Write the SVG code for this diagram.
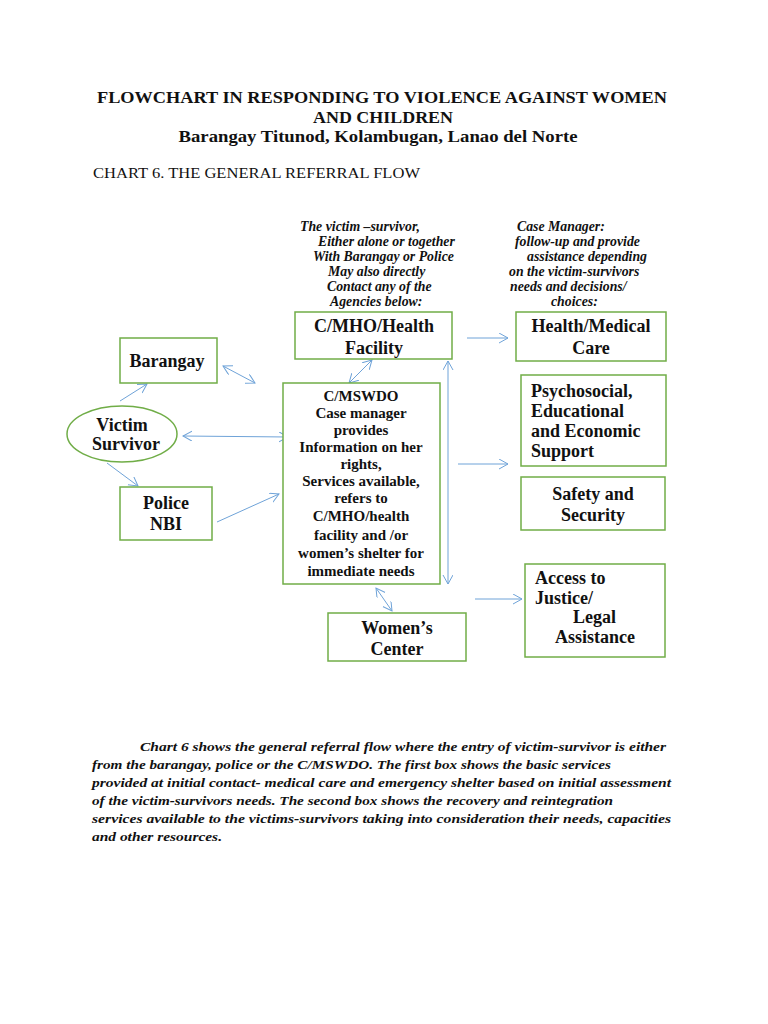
<svg xmlns="http://www.w3.org/2000/svg" width="768" height="1024" viewBox="0 0 768 1024">
<style>
text{font-family:"Liberation Serif","Times New Roman",serif;fill:#111;font-weight:bold}
.t{font-size:17.5px}
.r{font-weight:normal;font-size:14.5px}
.n{font-style:italic;font-size:13.8px}
.p{font-style:italic;font-size:13.5px}
.b{fill:#fff;stroke:#70ad47;stroke-width:1.5}
.L{font-size:18px}
.m{font-size:15px}
.c{stroke:#6fa3d8;stroke-width:1;fill:none}
</style>
<defs>
<marker id="a" markerUnits="userSpaceOnUse" markerWidth="12" markerHeight="12" refX="9" refY="5" orient="auto-start-reverse">
<path d="M0,0 L9,5 L0,10" fill="none" stroke="#6fa3d8" stroke-width="1"/>
</marker>
</defs>
<rect width="768" height="1024" fill="#fff"/>
<g id="title" text-anchor="middle">
<text class="t" x="382" y="103" textLength="570" lengthAdjust="spacingAndGlyphs">FLOWCHART IN RESPONDING TO VIOLENCE AGAINST WOMEN</text>
<text class="t" x="383" y="123" textLength="140" lengthAdjust="spacingAndGlyphs">AND CHILDREN</text>
<text class="t" x="378" y="142" textLength="399" lengthAdjust="spacingAndGlyphs">Barangay Titunod, Kolambugan, Lanao del Norte</text>
</g>
<text class="r" x="93" y="178" textLength="327" lengthAdjust="spacingAndGlyphs">CHART 6. THE GENERAL REFERRAL FLOW</text>
<g id="note-left">
<text class="n" x="300" y="231">The victim –survivor,</text>
<text class="n" x="318" y="246">Either alone or together</text>
<text class="n" x="313" y="261">With Barangay or Police</text>
<text class="n" x="328" y="276">May also directly</text>
<text class="n" x="327" y="291">Contact any of the</text>
<text class="n" x="330" y="306">Agencies below:</text>
</g>
<g id="note-right">
<text class="n" x="517" y="231">Case Manager:</text>
<text class="n" x="515" y="246">follow-up and provide</text>
<text class="n" x="527" y="261">assistance depending</text>
<text class="n" x="509" y="276">on the victim-survivors</text>
<text class="n" x="510" y="291">needs and decisions/</text>
<text class="n" x="551" y="306">choices:</text>
</g>
<g id="connectors" class="c">
<line class="c" x1="120" y1="401" x2="147" y2="384" marker-end="url(#a)"/>
<line class="c" x1="107" y1="463" x2="138" y2="486" marker-end="url(#a)"/>
<line class="c" x1="183" y1="436" x2="288" y2="437" marker-start="url(#a)" marker-end="url(#a)"/>
<line class="c" x1="223" y1="366" x2="255" y2="383" marker-start="url(#a)" marker-end="url(#a)"/>
<line class="c" x1="217" y1="522" x2="279" y2="494" marker-end="url(#a)"/>
<line class="c" x1="372" y1="360" x2="349" y2="383" marker-start="url(#a)" marker-end="url(#a)"/>
<line class="c" x1="448" y1="361" x2="448" y2="584" marker-start="url(#a)" marker-end="url(#a)"/>
<line class="c" x1="376" y1="588" x2="392" y2="611" marker-start="url(#a)" marker-end="url(#a)"/>
<line class="c" x1="467" y1="338" x2="508" y2="338" marker-end="url(#a)"/>
<line class="c" x1="458" y1="464" x2="508" y2="464" marker-end="url(#a)"/>
<line class="c" x1="475" y1="599" x2="522" y2="599" marker-end="url(#a)"/>
</g>
<g id="cmho" text-anchor="middle">
<rect class="b" x="295" y="312" width="157" height="47"/>
<text class="L" x="374" y="332">C/MHO/Health</text>
<text class="L" x="374" y="354">Facility</text>
</g>
<g id="barangay" text-anchor="middle">
<rect class="b" x="120" y="338" width="97" height="45"/>
<text class="L" x="167" y="367">Barangay</text>
</g>
<g id="victim" text-anchor="middle">
<ellipse class="b" cx="122" cy="434" rx="55" ry="28"/>
<text class="L" x="122" y="431">Victim</text>
<text class="L" x="126" y="450">Survivor</text>
</g>
<g id="police" text-anchor="middle">
<rect class="b" x="120" y="487" width="92" height="53"/>
<text class="L" x="166" y="509">Police</text>
<text class="L" x="166" y="530">NBI</text>
</g>
<g id="cmswdo" text-anchor="middle">
<rect class="b" x="283" y="383" width="157" height="201"/>
<text class="m" x="361" y="401">C/MSWDO</text>
<text class="m" x="361" y="418">Case manager</text>
<text class="m" x="361" y="435">provides</text>
<text class="m" x="361" y="452">Information on her</text>
<text class="m" x="361" y="469">rights,</text>
<text class="m" x="361" y="486">Services available,</text>
<text class="m" x="361" y="503">refers to</text>
<text class="m" x="361" y="521">C/MHO/health</text>
<text class="m" x="361" y="540">facility and /or</text>
<text class="m" x="361" y="558">women’s shelter for</text>
<text class="m" x="361" y="576">immediate needs</text>
</g>
<g id="womens-center" text-anchor="middle">
<rect class="b" x="328" y="613" width="138" height="48"/>
<text class="L" x="397" y="634">Women’s</text>
<text class="L" x="397" y="655">Center</text>
</g>
<g id="health" text-anchor="middle">
<rect class="b" x="516" y="312" width="150" height="49"/>
<text class="L" x="591" y="332">Health/Medical</text>
<text class="L" x="591" y="354">Care</text>
</g>
<g id="psychosocial">
<rect class="b" x="521" y="375" width="145" height="91"/>
<text class="L" x="531" y="397">Psychosocial,</text>
<text class="L" x="531" y="417">Educational</text>
<text class="L" x="531" y="437">and Economic</text>
<text class="L" x="531" y="457">Support</text>
</g>
<g id="safety" text-anchor="middle">
<rect class="b" x="521" y="477" width="144" height="53"/>
<text class="L" x="593" y="500">Safety and</text>
<text class="L" x="593" y="521">Security</text>
</g>
<g id="justice">
<rect class="b" x="525" y="564" width="140" height="93"/>
<text class="L" x="535" y="584">Access to</text>
<text class="L" x="535" y="604">Justice/</text>
<text class="L" x="573" y="623">Legal</text>
<text class="L" x="555" y="643">Assistance</text>
</g>
<g id="paragraph">
<text class="p" x="140" y="751" textLength="526" lengthAdjust="spacingAndGlyphs">Chart 6 shows the general referral flow where the entry of victim-survivor is either</text>
<text class="p" x="92" y="769" textLength="519" lengthAdjust="spacingAndGlyphs">from the barangay, police or the C/MSWDO. The first box shows the basic services</text>
<text class="p" x="92" y="787" textLength="579" lengthAdjust="spacingAndGlyphs">provided at initial contact- medical care and emergency shelter based on initial assessment</text>
<text class="p" x="92" y="805" textLength="521" lengthAdjust="spacingAndGlyphs">of the victim-survivors needs. The second box shows the recovery and reintegration</text>
<text class="p" x="92" y="823" textLength="579" lengthAdjust="spacingAndGlyphs">services available to the victims-survivors taking into consideration their needs, capacities</text>
<text class="p" x="92" y="841" textLength="130" lengthAdjust="spacingAndGlyphs">and other resources.</text>
</g>
</svg>
